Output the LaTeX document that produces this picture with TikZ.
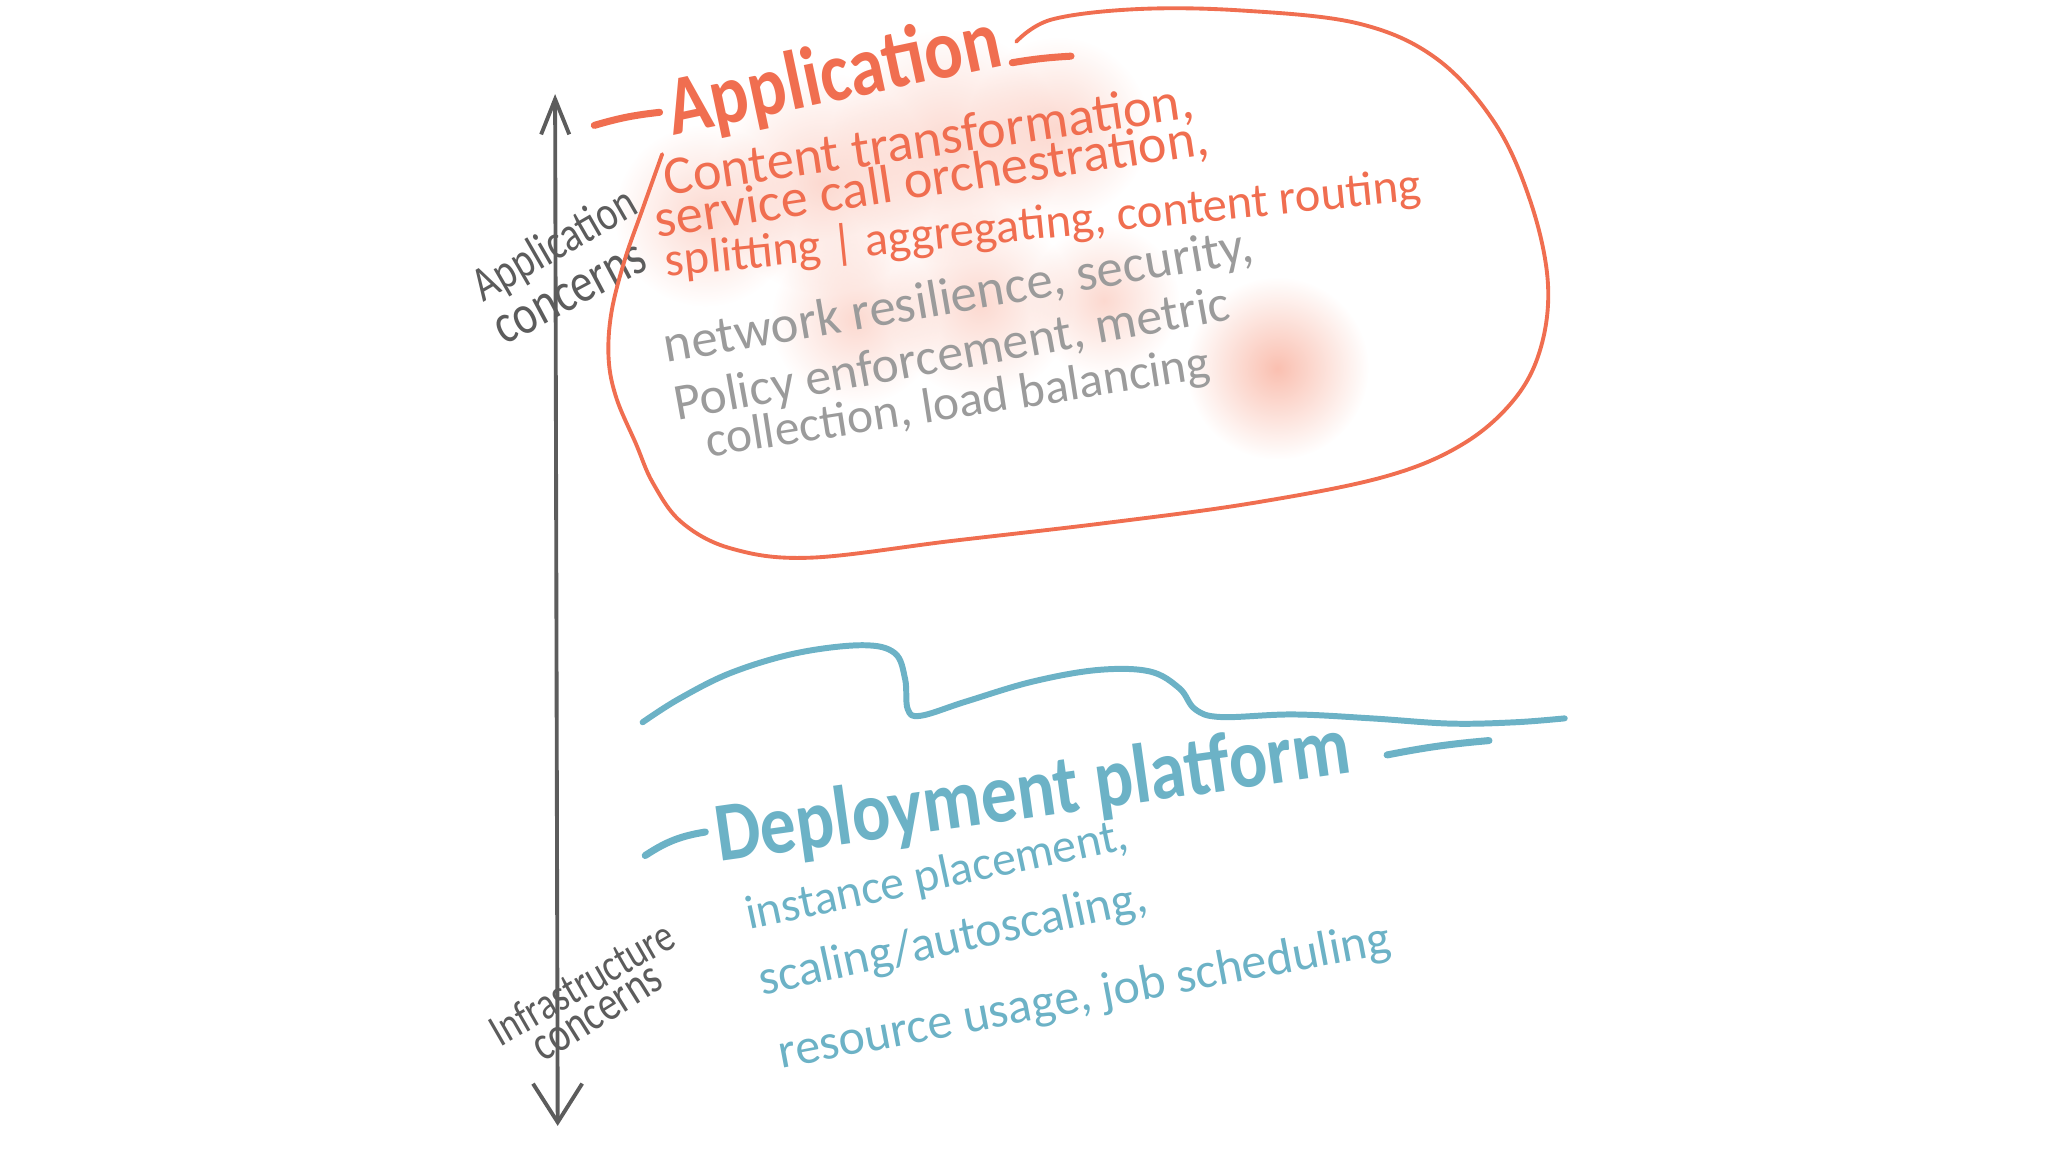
\documentclass[tikz,border=0pt]{standalone}
\usepackage{fontspec}
\newfontfamily\hand{Carlito}
\newfontfamily\handtall[FakeStretch=0.8]{Carlito}
\newfontfamily\handtitle[FakeStretch=0.85]{Carlito}
\usepackage{tikz}
\usetikzlibrary{arrows.meta, fadings}
\definecolor{penorange}{RGB}{240,110,80}
\definecolor{pengray}{RGB}{155,155,155}
\definecolor{penblue}{RGB}{108,178,198}
\definecolor{pendark}{RGB}{92,92,92}
\definecolor{blush}{RGB}{248,170,150}
\tikzfading[name=softedge, inner color=transparent!0, outer color=transparent!100]
\newcommand{\fsz}[1]{\fontsize{#1}{#1}\selectfont}
\tikzset{
	handtext/.style={anchor=base west, inner sep=0pt, font=\hand},
	orangetxt/.style={handtext, text=penorange},
	graytxt/.style={handtext, text=pengray},
	bluetxt/.style={handtext, text=penblue},
	titletxt/.style={handtext, font=\handtitle\bfseries},
	axislbl/.style={handtext, font=\handtall, text=pendark},
	pinkblot/.style={fill=blush, fill opacity=#1, path fading=softedge},
	pinkblot/.default=0.45
}

\begin{document}
\begin{tikzpicture}[x=0.013061cm, y=-0.013061cm, line cap=round, line join=round]
			\useasboundingbox (0,0) rectangle (1568,882);
			\fill[pinkblot] (540,165) circle (70);
			\fill[pinkblot] (630,140) circle (85);
			\fill[pinkblot] (725,112) circle (90);
			\fill[pinkblot] (810,98) circle (70);
			\fill[pinkblot] (655,245) circle (65);
			\fill[pinkblot] (750,232) circle (72);
			\fill[pinkblot] (845,230) circle (58);
			\fill[pinkblot=0.75] (978,282) circle (70);
			\coordinate (top) at (425,72);
			\coordinate (bot) at (427,862);
			\draw[pendark, line width=1.1pt, {Straight Barb[length=10pt, width=8pt]}-{Straight Barb[length=11pt, width=14pt]}] (top) -- (bot);
			\node[axislbl, rotate=30] (appl) at (370,232) {\fsz{14}Application};
			\node[axislbl, rotate=28] (appc) at (386,265) {\fsz{16}concerns};
			\node[axislbl, rotate=30] (infl) at (383,802) {\fsz{13}Infrastructure};
			\node[axislbl, rotate=32] (infc) at (416,814) {\fsz{14}concerns};
			\draw[penorange, line width=1.1pt] plot[smooth, tension=0.6] coordinates {(778,32) (805,15) (870,7) (950,8) (1040,18) (1100,45) (1145,95) (1172,155) (1185,215) (1180,265) (1160,305) (1120,340) (1060,365) (960,385) (850,400) (730,414) (620,427) (560,420) (522,400) (500,370) (487,340) (472,305) (466,275) (468,240) (478,200) (492,160) (507,118)};
			\draw[penorange, line width=2pt] (455,96) to[bend left=5] (505,86);
			\draw[penorange, line width=2pt] (775,48) to[bend left=3] (820,43);
			\node[titletxt, text=penorange, rotate=12] (apptitle) at (515,104) {\fsz{24}Application};
			\node[orangetxt, rotate=8.4] (app1) at (510,150) {\fsz{15.5}Content transformation,};
			\node[orangetxt, rotate=8.6] (app2) at (503,182) {\fsz{15.4}service call orchestration,};
			\node[orangetxt, rotate=5.8] (app3) at (510,212) {\fsz{13.8}splitting | aggregating, content routing};
			\node[graytxt, rotate=9.8] (net1) at (510,278) {\fsz{15}network resilience, security,};
			\node[graytxt, rotate=10.3] (net2) at (518,322) {\fsz{14.7}Policy enforcement, metric};
			\node[graytxt, rotate=8.9] (net3) at (542,350) {\fsz{14.1}collection, load balancing};
			\draw[penblue, line width=1.7pt] plot[smooth, tension=0.6] coordinates {(492,553) (520,535) (560,515) (610,500) (660,494) (685,500) (693,520) (695,543) (705,548) (740,537) (790,522) (840,513) (880,514) (903,527) (915,543) (935,549) (990,547) (1050,550) (1110,554) (1160,553) (1198,550)};
			\draw[penblue, line width=2pt] (1062,578) to[bend left=3] (1140,567);
			\draw[penblue, line width=2pt] (494,655) to[bend left=12] (540,637);
			\node[titletxt, text=penblue, rotate=8] (deptitle) at (550,660) {\fsz{24}Deployment platform};
			\node[bluetxt, rotate=12] (dep1) at (573,712) {\fsz{13.6}instance placement,};
			\node[bluetxt, rotate=12.2] (dep2) at (583,762) {\fsz{14.1}scaling/autoscaling,};
			\node[bluetxt, rotate=10.7] (dep3) at (598,818) {\fsz{14.2}resource usage, job scheduling};
		\end{tikzpicture}
\end{document}
